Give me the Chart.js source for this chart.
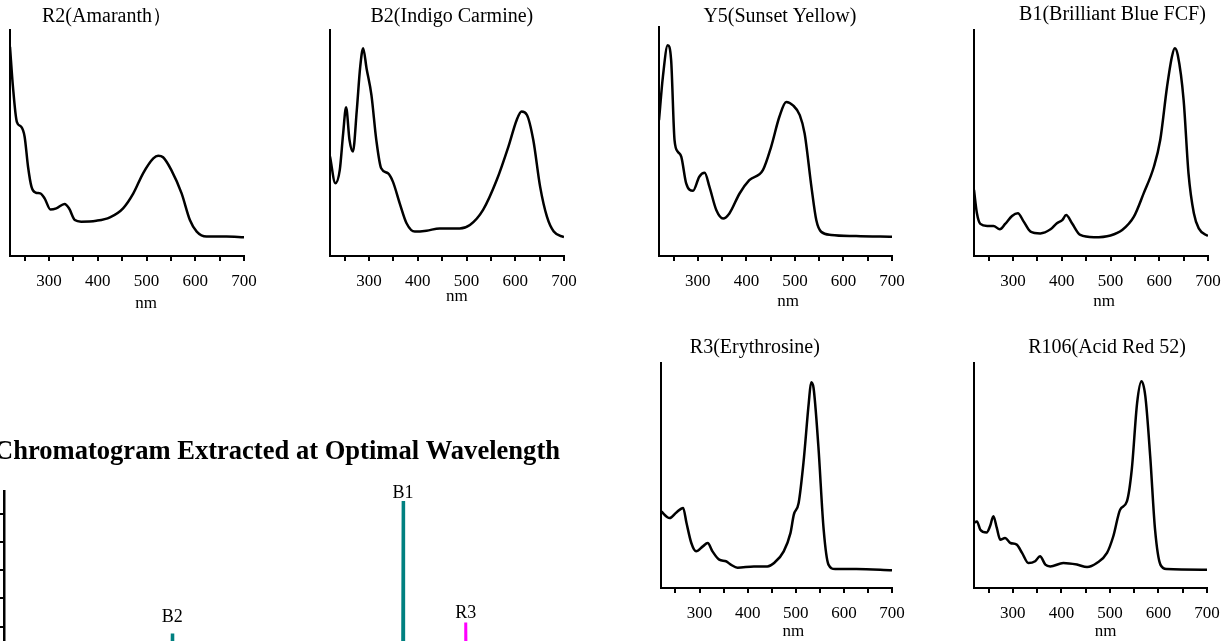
<!DOCTYPE html>
<html>
<head>
<meta charset="utf-8">
<title>UV-Vis spectra and chromatogram</title>
<script src="https://cdn.jsdelivr.net/npm/chart.js@4.4.1/dist/chart.umd.min.js"></script>
<style>
    html, body { margin: 0; padding: 0; background: #fff; overflow: hidden; width: 1232px; height: 641px; }
    .panel { position: absolute; }
</style>
</head>
<body>
<script>
// Espectros UV-Vis (nm, absorbancia relativa 0-100)
const r2Nm = [220, 226, 234, 243, 250, 257, 264, 273, 282, 291, 303, 315, 332, 341, 353, 366, 397, 425, 452, 473, 493, 514, 524, 534, 551, 572, 589, 603, 623, 664, 700];
const r2Abs = [92.6, 75, 59.4, 57.2, 52.8, 39.5, 30.7, 28, 27.7, 25.5, 20.6, 21.1, 23, 21.1, 15.9, 15.2, 15.6, 17.1, 21.1, 27.7, 36.6, 43.2, 44.4, 43.7, 38, 27.7, 15.9, 10.8, 8.6, 8.6, 8.3];

const b2Nm = [220, 231, 240, 247, 253, 260, 267, 275, 282, 288, 295, 305, 315, 325, 339, 349, 363, 377, 394, 418, 445, 486, 507, 534, 562, 586, 603, 613, 624, 637, 651, 665, 679, 700];
const b2Abs = [44, 32.2, 38, 54.3, 65.8, 51.3, 46.2, 64.6, 83.8, 91.9, 83, 71.2, 51.3, 38.8, 36.6, 32.9, 23.3, 14.5, 10.8, 11.2, 12.2, 12.2, 13.7, 20.4, 33.6, 48.4, 60.2, 63.9, 62.4, 51.3, 30.7, 17.4, 10.8, 8.3];

const y5Nm = [220, 228, 238, 245, 252, 259, 266, 276, 290, 303, 314, 324, 338, 352, 365, 386, 406, 434, 451, 468, 482, 496, 510, 520, 534, 544, 554, 575, 626, 700];
const y5Abs = [59.3, 78.2, 92, 85.5, 50.6, 45.5, 43.3, 31.7, 28.5, 34.6, 36.3, 30.2, 20.1, 16.4, 18.6, 27.3, 33.1, 37.5, 47.7, 60.8, 67.3, 65.8, 61.5, 53.5, 30.2, 15.7, 10.6, 9.2, 8.7, 8.4];

const b1Nm = [220, 226, 233, 247, 260, 273, 284, 298, 310, 322, 336, 356, 377, 390, 401, 409, 421, 438, 466, 500, 524, 548, 568, 589, 602, 616, 626, 632, 638, 650, 660, 671, 681, 700];
const b1Abs = [29.2, 18.9, 14.2, 13.3, 13.3, 11.8, 14.2, 17.7, 18.9, 15.2, 10.8, 10, 11.8, 14.5, 15.9, 18.1, 14.5, 9.3, 8.3, 9.1, 11.5, 17.4, 27.7, 39.5, 51.3, 74.9, 88.2, 91.9, 88.9, 69, 36.6, 18.9, 12.2, 8.8];

const r3Nm = [220, 238, 252, 266, 273, 283, 293, 307, 317, 327, 341, 355, 365, 379, 413, 441, 455, 475, 489, 496, 506, 516, 527, 532, 537, 547, 558, 568, 582, 626, 700];
const r3Abs = [34.1, 31.1, 33.6, 35.6, 28.9, 20, 16.3, 18.5, 20, 16.3, 12.6, 11.9, 10.4, 9, 9.6, 9.6, 11.1, 16.3, 24.4, 32.6, 37.8, 55.6, 82.2, 91.4, 88.9, 63, 25.9, 10.4, 8.4, 8.4, 7.9];

const r106Nm = [220, 226, 233, 246, 253, 260, 267, 274, 284, 295, 308, 319, 332, 346, 356, 367, 377, 404, 432, 453, 473, 494, 507, 521, 535, 545, 556, 565, 573, 583, 593, 604, 617, 700];
const r106Abs = [28.9, 29.6, 25.9, 24.7, 27.4, 31.9, 26.7, 21.5, 22.2, 20, 19.3, 15.6, 11.1, 11.9, 14.1, 10.4, 9.6, 11.1, 10.4, 9.3, 11.1, 15.6, 23, 34.8, 38.5, 52.6, 82.2, 91.9, 85.2, 58.5, 25.9, 10.4, 8.4, 8.1];

// Marcas del eje x (solo se rotulan los múltiplos de 100)
const nmTicks = [250, 300, 350, 400, 450, 500, 550, 600, 650, 700];

// Cromatograma
const peakNames = ['B2', 'B1', 'R3'];
const peakTimes = [3.09, 7.33, 8.48];
const peakHeights = [17.5, 64.5, 21.4];
const peakColors = ['#008080', '#008080', '#ff00ff'];

const SERIF = "'Liberation Serif', 'Times New Roman', serif";

// Posición de cada panel en la página (px)
const panels = [
    { title: 'R2(Amaranth）', nm: r2Nm, abs: r2Abs, left: 10, right: 244, top: 30, bottom: 256, titleAt: 419, titleGap: 13, unitAt: 499, unitGap: 48 },
    { title: 'B2(Indigo Carmine)', nm: b2Nm, abs: b2Abs, left: 330, right: 564, top: 30, bottom: 256, titleAt: 470, titleGap: 13, unitAt: 480, unitGap: 41 },
    { title: 'Y5(Sunset Yellow)', nm: y5Nm, abs: y5Abs, left: 659, right: 892, top: 27, bottom: 256, titleAt: 469, titleGap: 10, unitAt: 486, unitGap: 46 },
    { title: 'B1(Brilliant Blue FCF)', nm: b1Nm, abs: b1Abs, left: 974, right: 1208, top: 30, bottom: 256, titleAt: 504, titleGap: 15, unitAt: 487, unitGap: 46 },
    { title: 'R3(Erythrosine)', nm: r3Nm, abs: r3Abs, left: 661, right: 892, top: 363, bottom: 588, titleAt: 415, titleGap: 15, unitAt: 495, unitGap: 44 },
    { title: 'R106(Acid Red 52)', nm: r106Nm, abs: r106Abs, left: 974, right: 1207, top: 363, bottom: 588, titleAt: 494, titleGap: 15, unitAt: 491, unitGap: 44 }
];

// Textos del panel: título arriba y "nm" abajo, ubicados con la escala x
const spectrumText = {
    id: 'spectrumText',
    afterDraw(chart, args, opts) {
        const { ctx, chartArea, scales } = chart;
        ctx.save();
        ctx.fillStyle = '#000';
        ctx.textAlign = 'center';
        ctx.textBaseline = 'middle';
        ctx.font = '20px ' + SERIF;
        ctx.fillText(opts.title, scales.x.getPixelForValue(opts.titleAt), chartArea.top - opts.titleGap);
        ctx.font = '17px ' + SERIF;
        ctx.fillText('nm', scales.x.getPixelForValue(opts.unitAt), chartArea.bottom + opts.unitGap);
        ctx.restore();
    }
};

// Etiquetas sobre cada pico
const peakLabelGap = [12, 3, 5];
const peakLabels = {
    id: 'peakLabels',
    afterDatasetsDraw(chart) {
        const ctx = chart.ctx;
        ctx.save();
        ctx.font = '18px ' + SERIF;
        ctx.fillStyle = '#000';
        ctx.textAlign = 'center';
        ctx.textBaseline = 'alphabetic';
        chart.data.datasets.forEach((ds, i) => {
            const top = chart.getDatasetMeta(i).data[1];
            ctx.fillText(ds.label, top.x, top.y - peakLabelGap[i]);
        });
        ctx.restore();
    }
};

function makeCanvas(left, top, width, height) {
    const div = document.createElement('div');
    div.className = 'panel';
    div.style.left = left + 'px';
    div.style.top = top + 'px';
    const canvas = document.createElement('canvas');
    canvas.width = width;
    canvas.height = height;
    div.appendChild(canvas);
    document.body.appendChild(div);
    return canvas;
}

const PAD_TOP = 32, PAD_RIGHT = 24, X_AXIS_H = 58, Y_AXIS_W = 2;

panels.forEach(p => {
    const canvas = makeCanvas(p.left - Y_AXIS_W, p.top - PAD_TOP,
        (p.right - p.left) + Y_AXIS_W + PAD_RIGHT, (p.bottom - p.top) + PAD_TOP + X_AXIS_H);
    new Chart(canvas, {
        type: 'line',
        data: {
            datasets: [{
                data: p.nm.map((x, i) => ({ x: x, y: p.abs[i] })),
                borderColor: '#000',
                borderWidth: 2.5,
                pointRadius: 0,
                cubicInterpolationMode: 'monotone',
                fill: false
            }]
        },
        options: {
            responsive: false,
            animation: false,
            events: [],
            layout: { autoPadding: false, padding: { left: 0, right: PAD_RIGHT, top: PAD_TOP, bottom: 0 } },
            plugins: {
                legend: { display: false },
                tooltip: { enabled: false },
                spectrumText: { title: p.title, titleAt: p.titleAt, titleGap: p.titleGap, unitAt: p.unitAt, unitGap: p.unitGap }
            },
            scales: {
                x: {
                    type: 'linear',
                    min: 220,
                    max: 700,
                    afterBuildTicks: s => { s.ticks = nmTicks.map(v => ({ value: v })); },
                    afterFit: s => { s.height = X_AXIS_H; },
                    ticks: {
                        autoSkip: false,
                        maxRotation: 0,
                        padding: 10,
                        color: '#000',
                        font: { family: SERIF, size: 17 },
                        callback: v => (v % 100 === 0 ? v : '')
                    },
                    grid: { drawOnChartArea: false, drawTicks: true, tickLength: 5, color: '#000', lineWidth: 2 },
                    border: { display: true, color: '#000', width: 2 }
                },
                y: {
                    min: 0,
                    max: 100,
                    afterFit: s => { s.width = Y_AXIS_W; },
                    ticks: { display: false },
                    grid: { display: false },
                    border: { display: true, color: '#000', width: 2 }
                }
            }
        },
        plugins: [spectrumText]
    });
});

// Cromatograma (recortado por el borde inferior de la página)
const chromCanvas = makeCanvas(-6, 425, 566, 298);
new Chart(chromCanvas, {
    type: 'line',
    data: {
        datasets: peakNames.map((name, i) => ({
            label: name,
            data: [
                { x: peakTimes[i] - 0.01, y: 0 },
                { x: peakTimes[i], y: peakHeights[i] },
                { x: peakTimes[i] + 0.01, y: 0 }
            ],
            borderColor: peakColors[i],
            borderWidth: 3,
            pointRadius: 0,
            tension: 0,
            fill: false
        }))
    },
    options: {
        responsive: false,
        animation: false,
        events: [],
        layout: { autoPadding: false, padding: 0 },
        plugins: {
            legend: { display: false },
            tooltip: { enabled: false },
            title: {
                display: true,
                text: 'Chromatogram Extracted at Optimal Wavelength',
                color: '#000',
                font: { family: SERIF, size: 27, weight: 'bold' },
                padding: { top: 10.8, bottom: 22.8 }
            }
        },
        scales: {
            x: {
                type: 'linear',
                min: 0,
                max: 10,
                afterFit: s => { s.height = 40; },
                ticks: { color: '#000', font: { family: SERIF, size: 17 } },
                grid: { drawOnChartArea: false, tickLength: 6, color: '#000', lineWidth: 2 },
                border: { display: true, color: '#000', width: 2.5 }
            },
            y: {
                min: 0,
                max: 68,
                afterBuildTicks: s => { s.ticks = s.ticks.filter(t => t.value % 10 === 0); },
                afterFit: s => { s.width = 10; },
                ticks: { display: false, stepSize: 10 },
                grid: { drawOnChartArea: false, drawTicks: true, tickLength: 8, color: '#000', lineWidth: 2 },
                border: { display: true, color: '#000', width: 2.5 }
            }
        }
    },
    plugins: [peakLabels]
});
</script>
</body>
</html>
